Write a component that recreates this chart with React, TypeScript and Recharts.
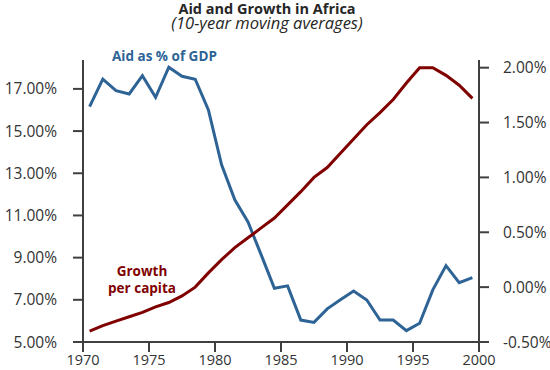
import React from "react";
import { LineChart, Line, XAxis, YAxis } from "recharts";

const years = [
  1970.5, 1971.5, 1972.5, 1973.5, 1974.5, 1975.5, 1976.5, 1977.5, 1978.5, 1979.5,
  1980.5, 1981.5, 1982.5, 1983.5, 1984.5, 1985.5, 1986.5, 1987.5, 1988.5, 1989.5,
  1990.5, 1991.5, 1992.5, 1993.5, 1994.5, 1995.5, 1996.5, 1997.5, 1998.5, 1999.5,
];

const aidPctGdp = [
  16.16, 17.46, 16.92, 16.76, 17.63, 16.6, 18.03, 17.6, 17.46, 16.0,
  13.4, 11.74, 10.69, 9.13, 7.55, 7.66, 6.04, 5.93, 6.57, 7.0,
  7.42, 6.99, 6.04, 6.04, 5.54, 5.89, 7.47, 8.62, 7.81, 8.05,
];

const growthPerCapita = [
  -0.4, -0.35, -0.31, -0.27, -0.23, -0.18, -0.14, -0.08, 0.0, 0.13,
  0.25, 0.36, 0.45, 0.54, 0.63, 0.75, 0.87, 1.0, 1.09, 1.22,
  1.35, 1.48, 1.59, 1.71, 1.86, 2.0, 2.0, 1.93, 1.84, 1.72,
];

const xTicks = [1970, 1975, 1980, 1985, 1990, 1995, 2000];
const leftTicks = [5, 7, 9, 11, 13, 15, 17];
const rightTicks = [-0.5, 0, 0.5, 1.0, 1.5, 2.0];

const data = years.map((y, i) => ({
  year: y,
  aid: aidPctGdp[i],
  growth: growthPerCapita[i],
}));

const FONT = "'Open Sans', sans-serif";
const BLUE = "#2E6396";
const RED = "#800000";
const AXIS = "#404040";
const TEXT = "#333333";

const yTickStyle = { fill: TEXT, fontSize: 15.5, fontFamily: FONT };
const xTickStyle = { fill: TEXT, fontSize: 14.5, fontFamily: FONT };

export default function App() {
  return (
    <div style={{ position: "absolute", left: 0, top: 0, width: 550, height: 370, background: "#fff" }}>
      <LineChart
        width={550}
        height={370}
        data={data}
        margin={{ top: 60, right: 0, bottom: 0, left: 0 }}
      >
        <XAxis
          dataKey="year"
          type="number"
          domain={[1970, 2000]}
          ticks={xTicks}
          tick={xTickStyle}
          tickSize={10}
          tickMargin={3}
          height={28}
          stroke={AXIS}
          strokeWidth={2}
          interval={0}
        />
        <YAxis
          yAxisId="left"
          domain={[5, 18.37]}
          ticks={leftTicks}
          tickFormatter={(v: number) => v.toFixed(2) + "%"}
          tick={yTickStyle}
          tickSize={10}
          tickMargin={16}
          width={83}
          stroke={AXIS}
          strokeWidth={2}
          interval={0}
          allowDataOverflow
        />
        <YAxis
          yAxisId="right"
          orientation="right"
          domain={[-0.5, 2.07]}
          ticks={rightTicks}
          tickFormatter={(v: number) => v.toFixed(2) + "%"}
          tick={yTickStyle}
          tickSize={10}
          tickMargin={14}
          width={71}
          stroke={AXIS}
          strokeWidth={2}
          interval={0}
          allowDataOverflow
        />
        <Line
          yAxisId="left"
          dataKey="aid"
          type="linear"
          stroke={BLUE}
          strokeWidth={3}
          dot={false}
          isAnimationActive={false}
        />
        <Line
          yAxisId="right"
          dataKey="growth"
          type="linear"
          stroke={RED}
          strokeWidth={3}
          dot={false}
          isAnimationActive={false}
        />
      </LineChart>
      <div
        style={{
          position: "absolute",
          left: 0,
          width: 534,
          top: 2,
          textAlign: "center",
          fontFamily: FONT,
          fontWeight: 700,
          fontSize: 14.5,
          color: "#262626",
          lineHeight: "14px",
        }}
      >
        Aid and Growth in Africa
      </div>
      <div
        style={{
          position: "absolute",
          left: 0,
          width: 534,
          top: 16,
          textAlign: "center",
          fontFamily: FONT,
          fontStyle: "italic",
          fontSize: 16.5,
          color: "#262626",
          lineHeight: "14px",
        }}
      >
        (10-year moving averages)
      </div>
      <div
        style={{
          position: "absolute",
          left: 112,
          top: 47,
          fontFamily: FONT,
          fontWeight: 700,
          fontSize: 13.5,
          color: BLUE,
          lineHeight: "18px",
          whiteSpace: "nowrap",
        }}
      >
        Aid as % of GDP
      </div>
      <div
        style={{
          position: "absolute",
          left: 92,
          width: 100,
          top: 263,
          textAlign: "center",
          fontFamily: FONT,
          fontWeight: 700,
          fontSize: 13.5,
          color: RED,
          lineHeight: "17px",
        }}
      >
        Growth
        <br />
        per capita
      </div>
    </div>
  );
}
